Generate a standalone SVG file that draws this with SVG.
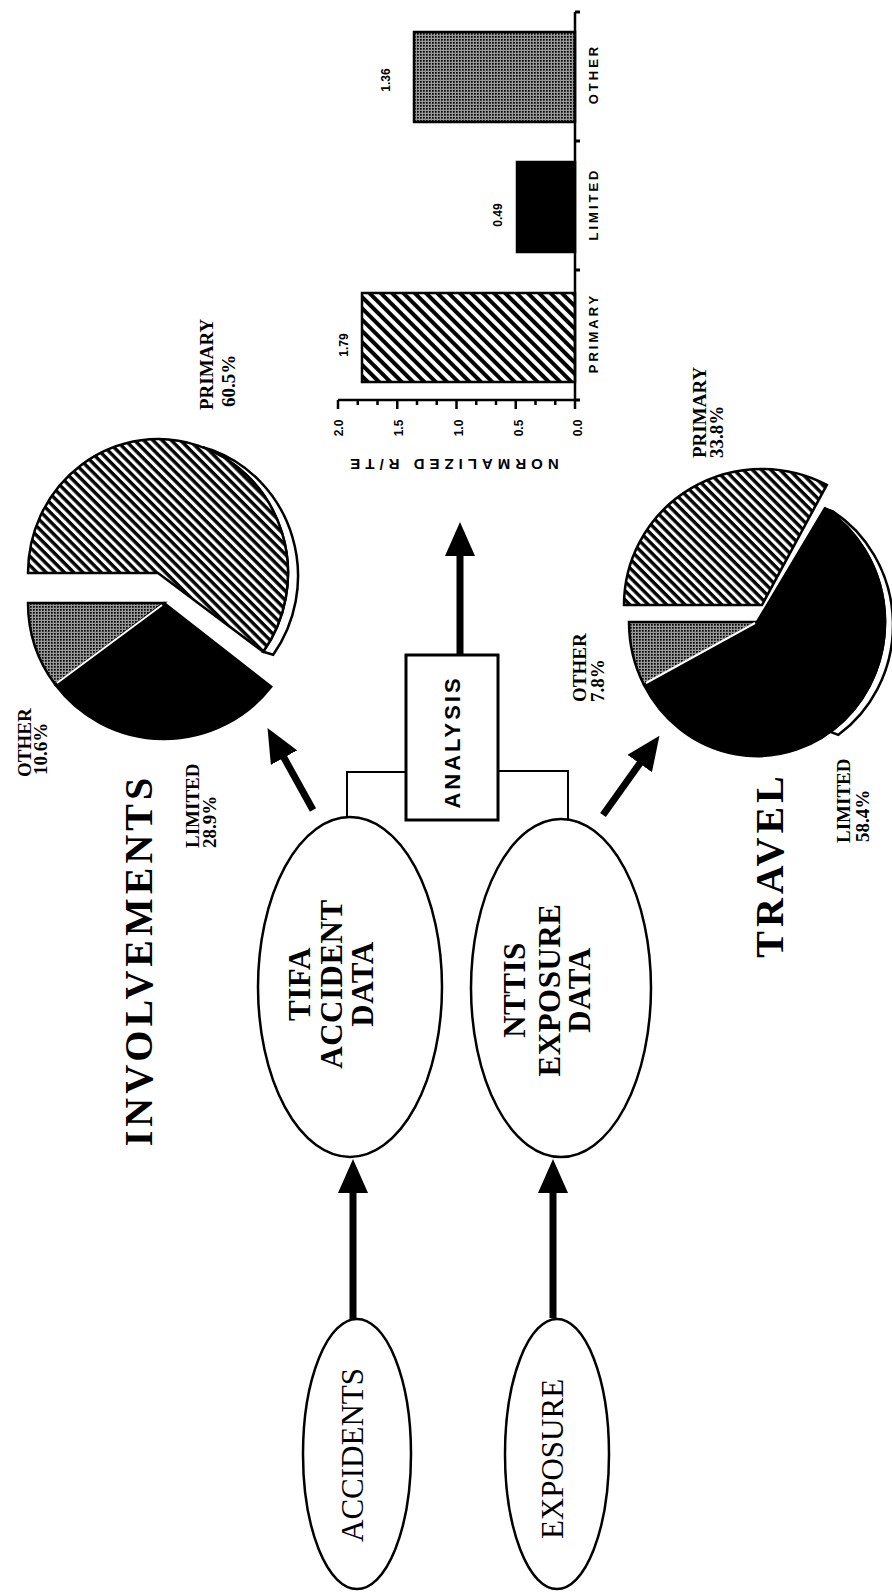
<svg xmlns="http://www.w3.org/2000/svg" width="892" height="1592" viewBox="0 0 892 1592">
<style>
.big{font-family:"Liberation Serif","Times New Roman",serif;font-weight:bold;fill:#000}
.reg{font-family:"Liberation Serif","Times New Roman",serif;font-weight:normal;fill:#000}
.lbl{font-family:"Liberation Serif","Times New Roman",serif;font-weight:bold;font-size:19px;fill:#000}
.sans{font-family:"Liberation Sans",Arial,sans-serif;font-weight:bold;fill:#000}
.node{fill:#fff;stroke:#000;stroke-width:2.5}
.conn{fill:none;stroke:#000;stroke-width:7}
.thin{fill:none;stroke:#000;stroke-width:2}
.sl{stroke:#000;stroke-width:2.5}
</style>
<defs>
<marker id="ah" markerUnits="userSpaceOnUse" markerWidth="34" markerHeight="30" viewBox="0 0 34 30" refX="1" refY="15" orient="auto"><path d="M0,0 L34,15 L0,30 z" fill="#000"/></marker>
<pattern id="hatch" patternUnits="userSpaceOnUse" width="6.5" height="6.5" patternTransform="rotate(45)"><rect width="6.5" height="6.5" fill="#fff"/><rect width="6.5" height="3.4" fill="#000"/></pattern>
<pattern id="hatch2" patternUnits="userSpaceOnUse" width="8" height="8" patternTransform="rotate(45)"><rect width="8" height="8" fill="#fff"/><rect width="8" height="4" fill="#000"/></pattern>
<pattern id="dots" patternUnits="userSpaceOnUse" width="3" height="3"><rect width="3" height="3" fill="#999"/><rect width="1.7" height="1.7" fill="#000"/></pattern>
</defs>
<rect width="892" height="1592" fill="#fff"/>

<g id="connectors">
<line class="conn" x1="353" y1="1320" x2="353" y2="1192" marker-end="url(#ah)"/>
<line class="conn" x1="553" y1="1318" x2="553" y2="1192" marker-end="url(#ah)"/>
<line class="conn" x1="460" y1="655" x2="460" y2="555" marker-end="url(#ah)"/>
<line class="conn" x1="313" y1="810" x2="283.5" y2="756.8" marker-end="url(#ah)"/>
<line class="conn" x1="603" y1="815" x2="640.3" y2="762.7" marker-end="url(#ah)"/>
<path class="thin" d="M347,818 L347,772 L406,772"/>
<path class="thin" d="M498,771 L568,771 L568,820"/>
</g>

<g id="accidents">
<ellipse class="node" cx="357" cy="1454" rx="54" ry="135"/>
<text class="reg" font-size="31" text-anchor="middle" transform="translate(363,1455) rotate(-90)">ACCIDENTS</text>
</g>
<g id="exposure">
<ellipse class="node" cx="557" cy="1454" rx="52" ry="135"/>
<text class="reg" font-size="31" text-anchor="middle" transform="translate(563,1459) rotate(-90)">EXPOSURE</text>
</g>
<g id="tifa">
<ellipse class="node" cx="350" cy="987" rx="92" ry="170"/>
<text class="big" font-size="31" letter-spacing="0.5" text-anchor="middle" transform="translate(310,984) rotate(-90)"><tspan x="0" y="0">TIFA</tspan><tspan x="0" y="32">ACCIDENT</tspan><tspan x="0" y="63">DATA</tspan></text>
</g>
<g id="nttis">
<ellipse class="node" cx="561" cy="988" rx="90" ry="169"/>
<text class="big" font-size="31" letter-spacing="0.5" text-anchor="middle" transform="translate(525,990) rotate(-90)"><tspan x="0" y="0">NTTIS</tspan><tspan x="0" y="35">EXPOSURE</tspan><tspan x="0" y="65">DATA</tspan></text>
</g>
<g id="analysis">
<rect x="406" y="655" width="92" height="165" fill="#fff" stroke="#000" stroke-width="3"/>
<text class="sans" font-size="22" letter-spacing="3" text-anchor="middle" transform="translate(460,742) rotate(-90)">ANALYSIS</text>
</g>

<g id="involvements">
<path d="M202.5,447.1 L212.5,450.1 A130,134 0 0 1 273.2,654.8 L263.2,651.8 A130,134 0 0 0 202.5,447.1 Z" fill="#fff" class="sl"/>
<path d="M158,573 L28,573 A130,134 0 1 1 263.2,651.8 Z" fill="url(#hatch)" class="sl"/>
<path d="M164,603 L28,603 A136,136 0 0 0 55.4,684.8 Z" fill="url(#dots)" class="sl"/>
<path d="M164,603 L271.2,686.7 A136,136 0 0 1 55.4,684.8 Z" fill="#000" class="sl"/>
<line x1="162" y1="605" x2="57" y2="683" stroke="#fff" stroke-width="2"/>
<text class="big" font-size="40" letter-spacing="4" text-anchor="middle" transform="translate(152,960) rotate(-90)">INVOLVEMENTS</text>
<text class="lbl" transform="translate(213,410) rotate(-90)">PRIMARY</text>
<text class="lbl" transform="translate(235,407) rotate(-90)">60.5%</text>
<text class="lbl" transform="translate(31,777) rotate(-90)">OTHER</text>
<text class="lbl" transform="translate(47,775) rotate(-90)">10.6%</text>
<text class="lbl" transform="translate(199,848) rotate(-90)">LIMITED</text>
<text class="lbl" transform="translate(216,848) rotate(-90)">28.9%</text>
</g>

<g id="travel">
<path d="M824.8,508.4 L832.8,511.4 A128,134 0 0 1 838.4,734.8 L830.4,731.8 A128,134 0 0 0 824.8,508.4 Z" fill="#fff" class="sl"/>
<path d="M762,605 L624,605 A138,136 0 0 1 826.8,484.9 Z" fill="url(#hatch)" class="sl"/>
<path d="M757,622 L629,622 A128,134 0 0 0 644,684.9 Z" fill="url(#dots)" class="sl"/>
<path d="M757,622 L824.8,508.4 A128,134 0 1 1 644,684.9 Z" fill="#000" class="sl"/>
<line x1="755" y1="623" x2="646" y2="683" stroke="#fff" stroke-width="2"/>
<text class="big" font-size="40" letter-spacing="4" text-anchor="middle" transform="translate(783,865) rotate(-90)">TRAVEL</text>
<text class="lbl" transform="translate(706,458) rotate(-90)">PRIMARY</text>
<text class="lbl" transform="translate(723,458) rotate(-90)">33.8%</text>
<text class="lbl" transform="translate(586,702) rotate(-90)">OTHER</text>
<text class="lbl" transform="translate(604,702) rotate(-90)">7.8%</text>
<text class="lbl" transform="translate(850,843) rotate(-90)">LIMITED</text>
<text class="lbl" transform="translate(869,842) rotate(-90)">58.4%</text>
</g>

<g id="barchart">
<rect x="362" y="293" width="213" height="89" fill="url(#hatch2)" class="sl"/>
<rect x="517" y="162" width="58" height="90" fill="#000" class="sl"/>
<rect x="414" y="32" width="161" height="90" fill="url(#dots)" class="sl"/>
<path d="M575,12 L575,400 M338,400 L575,400" fill="none" stroke="#000" stroke-width="2.5"/>
<path d="M575,12 h5 M575,141 h5 M575,270 h5 M575,400 h5" stroke="#000" stroke-width="3"/>
<path d="M338,400 v9 M357.75,400 v5 M377.5,400 v5 M397.25,400 v9 M417,400 v5 M436.75,400 v5 M456.5,400 v9 M476.25,400 v5 M496,400 v5 M515.75,400 v9 M535.5,400 v5 M555.25,400 v5 M575,400 v9" stroke="#000" stroke-width="2.5"/>
<g class="sans" font-size="12" text-anchor="middle">
<text transform="translate(343,428) rotate(-90)">2.0</text>
<text transform="translate(403,428) rotate(-90)">1.5</text>
<text transform="translate(463,428) rotate(-90)">1.0</text>
<text transform="translate(523,428) rotate(-90)">0.5</text>
<text transform="translate(582,428) rotate(-90)">0.0</text>
<text transform="translate(348,345) rotate(-90)">1.79</text>
<text transform="translate(502,215) rotate(-90)">0.49</text>
<text transform="translate(390,80) rotate(-90)">1.36</text>
</g>
<g class="sans" font-size="13" letter-spacing="3" text-anchor="middle">
<text transform="translate(598,333) rotate(-90)">PRIMARY</text>
<text transform="translate(598,204) rotate(-90)">LIMITED</text>
<text transform="translate(598,74) rotate(-90)">OTHER</text>
</g>
<text class="sans" font-size="15" letter-spacing="5" text-anchor="middle" transform="translate(452,459) rotate(180)">NORMALIZED R/TE</text>
</g>
</svg>
